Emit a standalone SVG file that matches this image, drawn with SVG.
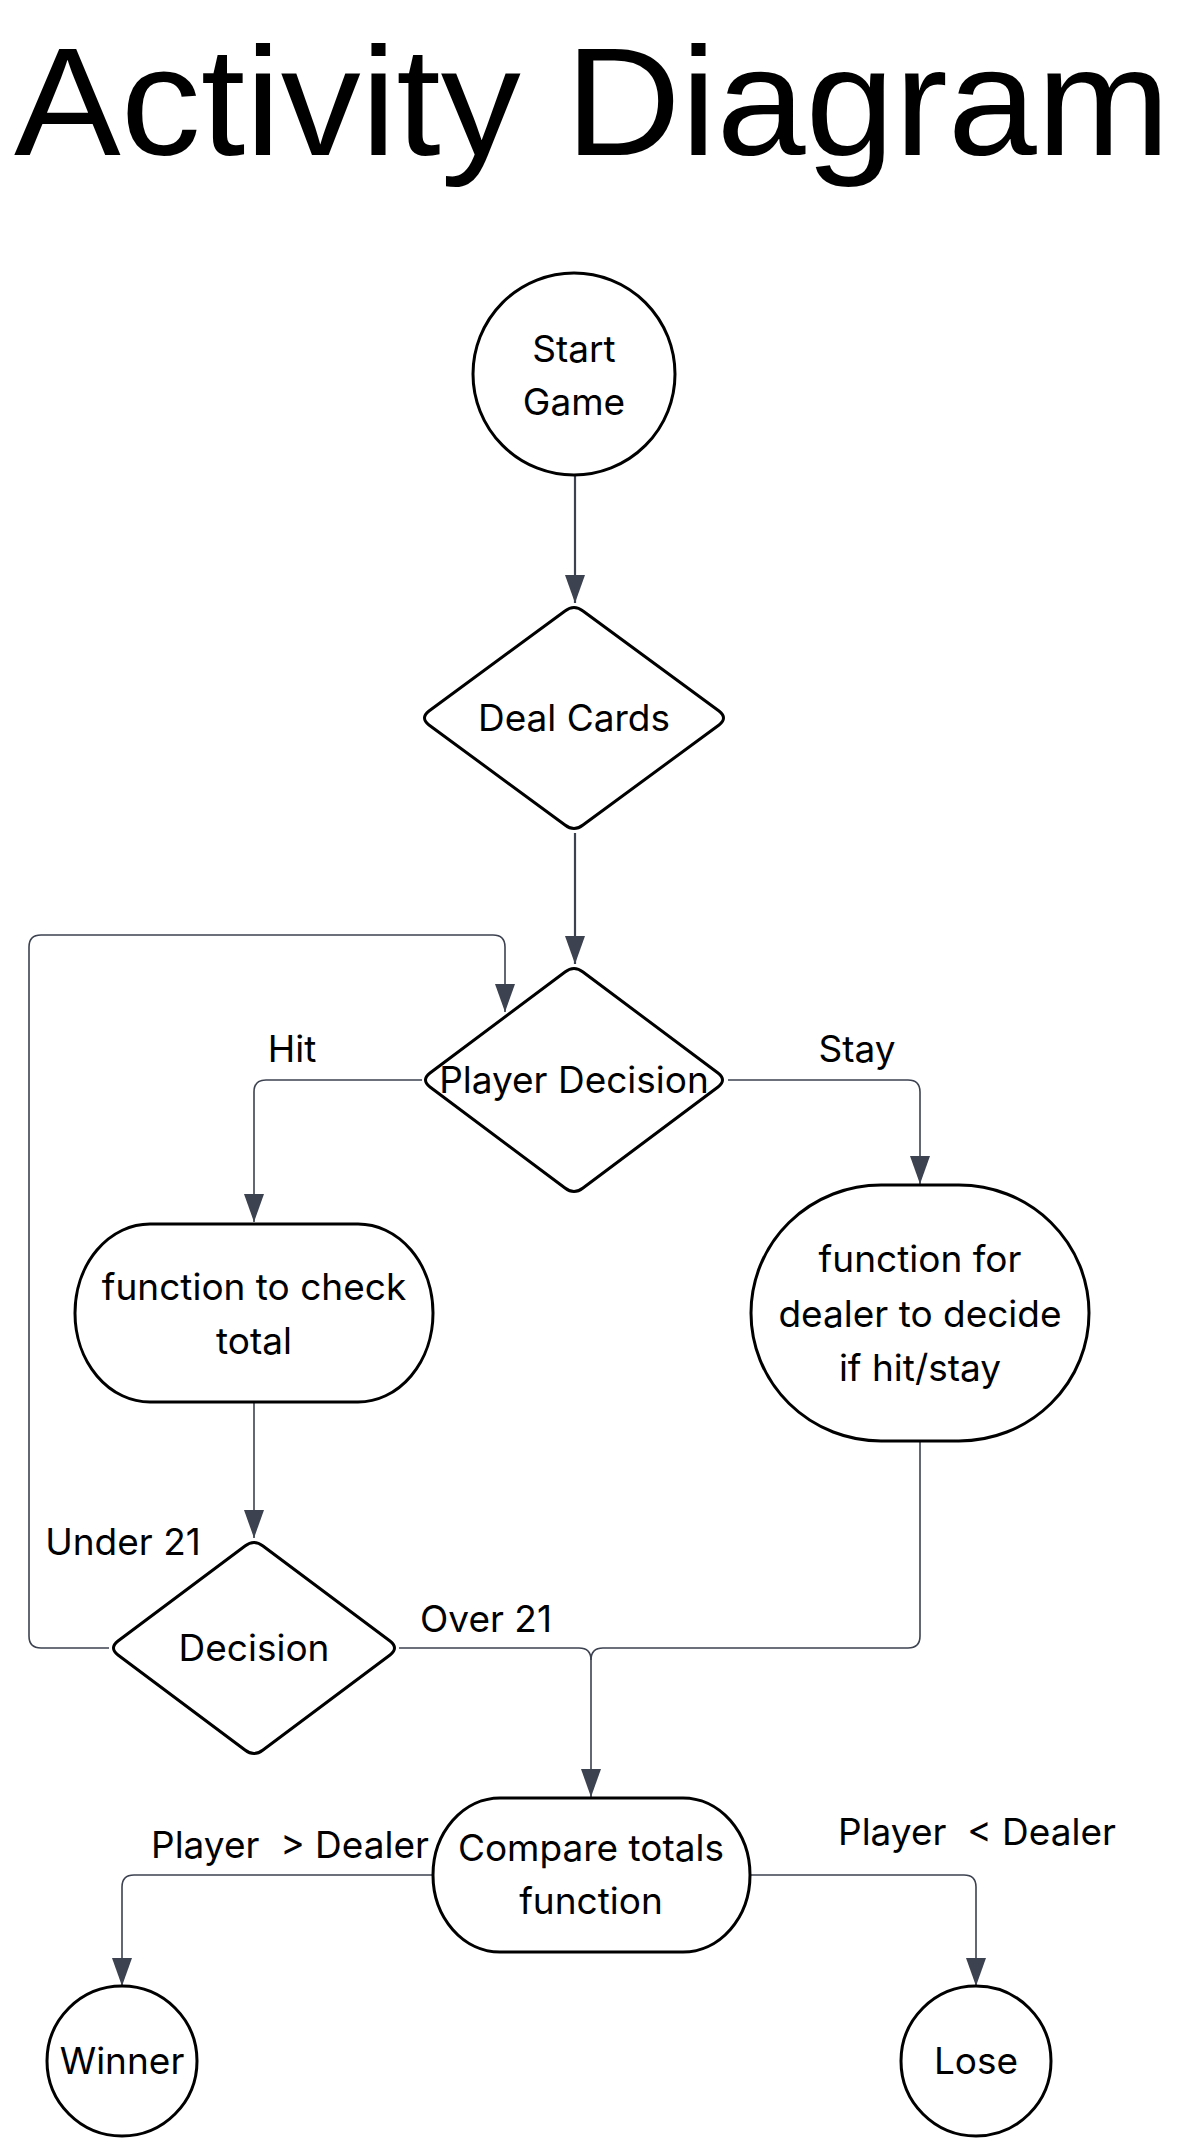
<svg xmlns="http://www.w3.org/2000/svg" width="1185" height="2139" viewBox="0 0 1185 2139">
<style>
.node{fill:#fff;stroke:#000;stroke-width:3}
.t{font-family:Inter,"Liberation Sans",sans-serif;font-size:37px;fill:#000;text-anchor:middle;white-space:pre}
.c{fill:none;stroke:#3c4250;stroke-width:1.6}
.c2{fill:none;stroke:#3c4250;stroke-width:2.2}
</style>
<defs>
<marker id="ah" viewBox="0 0 28 20" refX="28" refY="10" markerWidth="28" markerHeight="20" markerUnits="userSpaceOnUse" orient="auto">
<path d="M0,0 L28,10 L0,20 Z" fill="#3c4250"/>
</marker>
</defs>
<rect width="1185" height="2139" fill="#fff"/>
<text x="14" y="155" font-family="'Liberation Sans',Arial,sans-serif" font-size="154" textLength="1156" lengthAdjust="spacingAndGlyphs" fill="#000">Activity Diagram</text>

<g id="connectors">
<path class="c2" d="M575,476 L575,603" marker-end="url(#ah)"/>
<path class="c2" d="M575,833 L575,964" marker-end="url(#ah)"/>
<path class="c" d="M422,1080 H266 Q254,1080 254,1092 V1222" marker-end="url(#ah)"/>
<path class="c" d="M728,1080 H908 Q920,1080 920,1092 V1184" marker-end="url(#ah)"/>
<path class="c" d="M109,1648 H41 Q29,1648 29,1636 V947 Q29,935 41,935 H493 Q505,935 505,947 V1012" marker-end="url(#ah)"/>
<path class="c" d="M254,1402 V1538" marker-end="url(#ah)"/>
<path class="c" d="M399,1648 H579 Q591,1648 591,1660 V1797" marker-end="url(#ah)"/>
<path class="c" d="M920,1441 V1636 Q920,1648 908,1648 H603 Q591,1648 591,1660"/>
<path class="c" d="M433,1875 H134 Q122,1875 122,1887 V1986" marker-end="url(#ah)"/>
<path class="c" d="M750,1875 H964 Q976,1875 976,1887 V1986" marker-end="url(#ah)"/>
<text class="t" x="292" y="1062">Hit</text>
<text class="t" x="857" y="1062">Stay</text>
<text class="t" x="123" y="1555">Under 21</text>
<text class="t" x="486" y="1632">Over 21</text>
<text class="t" x="290" y="1858">Player  &gt; Dealer</text>
<text class="t" x="977" y="1845">Player  &lt; Dealer</text>
</g>

<g id="start">
<circle class="node" cx="574" cy="374" r="101"/>
<text class="t" x="574" y="362">Start</text>
<text class="t" x="574" y="415">Game</text>
</g>

<g id="deal">
<path class="node" d="M565,611 Q574,604 583,611 L719,711 Q728,718 719,725 L583,825 Q574,832 565,825 L429,725 Q420,718 429,711 Z"/>
<text class="t" x="574" y="731">Deal Cards</text>
</g>

<g id="player-decision">
<path class="node" d="M565,972 Q574,965 583,972 L718,1073 Q727,1080 718,1087 L583,1188 Q574,1195 565,1188 L430,1087 Q421,1080 430,1073 Z"/>
<text class="t" x="574" y="1093">Player Decision</text>
</g>

<g id="check-total">
<rect class="node" x="75" y="1224" width="358" height="178" rx="75" ry="89"/>
<text class="t" x="254" y="1300">function to check</text>
<text class="t" x="254" y="1354">total</text>
</g>

<g id="dealer">
<rect class="node" x="751" y="1185" width="338" height="256" rx="130" ry="128"/>
<text class="t" x="920" y="1272">function for</text>
<text class="t" x="920" y="1327">dealer to decide</text>
<text class="t" x="920" y="1381">if hit/stay</text>
</g>

<g id="decision">
<path class="node" d="M245,1546 Q254,1539 263,1546 L390,1641 Q399,1648 390,1655 L263,1750 Q254,1757 245,1750 L118,1655 Q109,1648 118,1641 Z"/>
<text class="t" x="254" y="1661">Decision</text>
</g>

<g id="compare">
<rect class="node" x="433" y="1798" width="317" height="154" rx="67" ry="77"/>
<text class="t" x="591" y="1861">Compare totals</text>
<text class="t" x="591" y="1914">function</text>
</g>

<g id="winner">
<circle class="node" cx="122" cy="2061" r="75"/>
<text class="t" x="122" y="2074">Winner</text>
</g>

<g id="lose">
<circle class="node" cx="976" cy="2061" r="75"/>
<text class="t" x="976" y="2074">Lose</text>
</g>
</svg>
